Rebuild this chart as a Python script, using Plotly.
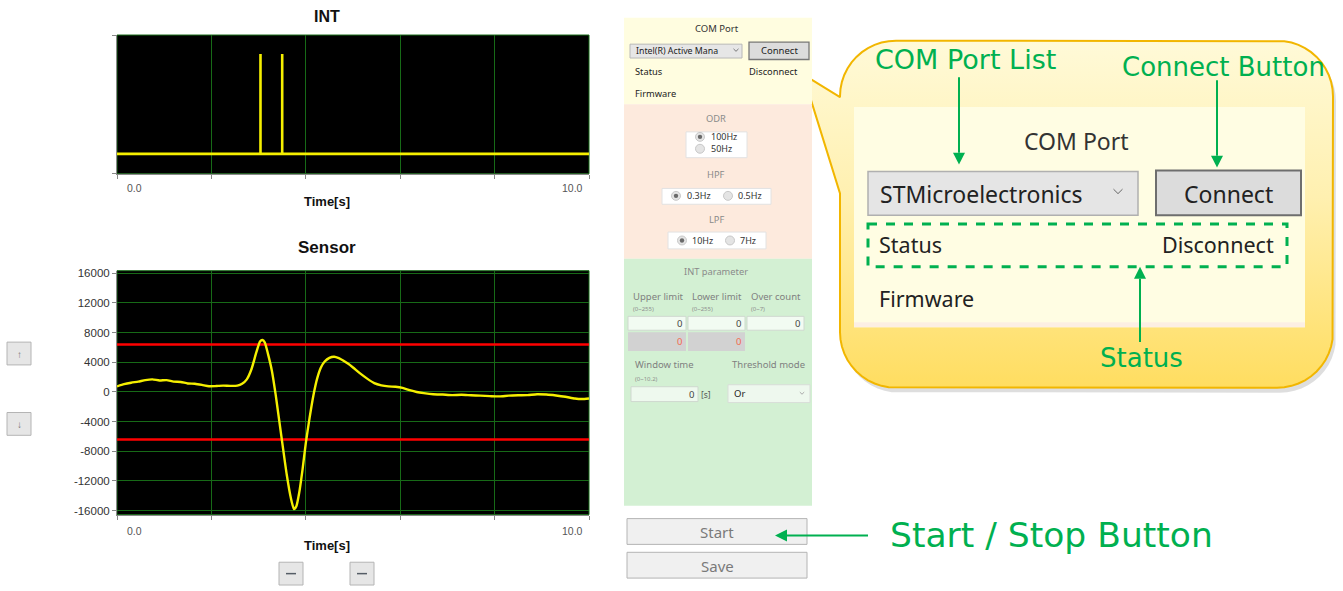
import math
import plotly.graph_objects as go

# ---------------- data ----------------
INT_T = [0.0, 3.04, 3.04, 3.04, 3.50, 3.50, 3.50, 10.0]
INT_V = [0, 0, 1, 0, 0, 1, 0, 0]

SENSOR_T = [0.0, 0.15, 0.3, 0.45, 0.6, 0.75, 0.9, 1.05, 1.2, 1.35, 1.5, 1.65, 1.8, 1.95,
            2.1, 2.25, 2.4, 2.55, 2.65, 2.75, 2.85, 2.95, 3.03, 3.08, 3.13, 3.2, 3.28,
            3.36, 3.44, 3.52, 3.6, 3.68, 3.75, 3.8, 3.86, 3.93, 4.0, 4.08, 4.16, 4.24,
            4.32, 4.4, 4.5, 4.6, 4.7, 4.8, 4.9, 5.0, 5.15, 5.3, 5.45, 5.6, 5.75, 5.9,
            6.05, 6.2, 6.35, 6.5, 6.7, 6.9, 7.1, 7.3, 7.5, 7.7, 7.9, 8.1, 8.3, 8.5,
            8.7, 8.9, 9.1, 9.3, 9.5, 9.7, 9.85, 10.0]
SENSOR_V = [750, 1050, 1250, 1400, 1600, 1700, 1550, 1600, 1400, 1350, 1150, 1100, 950, 780,
            800, 850, 820, 850, 1100, 1700, 3100, 5300, 6800, 7000, 6700, 5100, 2900,
            -300, -4000, -7700, -11300, -14200, -15800, -15400, -13600, -10500, -6900, -3500, -500, 1800,
            3300, 4100, 4600, 4750, 4550, 4200, 3800, 3300, 2500, 1800, 1200, 900, 750, 700,
            550, 250, 0, -150, -300, -350, -420, -380, -450, -500, -560, -600, -500, -450,
            -420, -300, -350, -480, -650, -880, -950, -880]

THRESH_UPPER = 6400
THRESH_LOWER = -6400
X_RANGE = [0, 10]
SENSOR_TICKS = [16000, 12000, 8000, 4000, 0, -4000, -8000, -12000, -16000]
X_TICK_TEXT = ["0.0", "10.0"]

# ---------------- geometry helpers ----------------
W, H = 1343, 591
UI = "Noto Sans"
CH = "Liberation Sans"
CALL = "DejaVu Sans"
GREEN = "#00b050"
GRID = "#176a17"

shapes = []
annos = []


def rect(x0, y0, x1, y1, fill, line=None, lw=1, dash=None, layer="above"):
    shapes.append(dict(type="rect", xref="x3", yref="y3", x0=x0, y0=y0, x1=x1, y1=y1,
                       fillcolor=fill, layer=layer,
                       line=dict(color=line if line else "rgba(0,0,0,0)", width=lw if line else 0,
                                 dash=dash)))


def text(x, y, s, size, color="#333", anchor="center", font=UI, bold=False):
    annos.append(dict(xref="x3", yref="y3", x=x, y=y, text=("<b>%s</b>" % s) if bold else s,
                      showarrow=False, xanchor=anchor, yanchor="middle", borderpad=0,
                      font=dict(family=font, size=size, color=color)))


def path(d, fill=None, line=None, lw=1):
    shapes.append(dict(type="path", xref="x3", yref="y3", path=d, layer="above",
                       fillcolor=fill if fill else "rgba(0,0,0,0)",
                       line=dict(color=line if line else "rgba(0,0,0,0)", width=lw if line else 0)))


def arrow(x0, y0, x1, y1, color=GREEN, lw=2, hl=12, hw=6):
    dx, dy = x1 - x0, y1 - y0
    L = math.hypot(dx, dy)
    ux, uy = dx / L, dy / L
    bx, by = x1 - ux * hl, y1 - uy * hl
    shapes.append(dict(type="line", xref="x3", yref="y3", x0=x0, y0=y0, x1=bx, y1=by,
                       layer="above", line=dict(color=color, width=lw)))
    px, py = -uy, ux
    path("M %f,%f L %f,%f L %f,%f Z" % (x1, y1, bx + px * hw, by + py * hw, bx - px * hw, by - py * hw),
         fill=color)


def radio(cx, cy, sel):
    shapes.append(dict(type="circle", xref="x3", yref="y3", x0=cx - 4.5, y0=cy - 4.5, x1=cx + 4.5,
                       y1=cy + 4.5, layer="above", fillcolor="#e4e4e4",
                       line=dict(color="#c8c8c8", width=1)))
    if sel:
        shapes.append(dict(type="circle", xref="x3", yref="y3", x0=cx - 2.2, y0=cy - 2.2,
                           x1=cx + 2.2, y1=cy + 2.2, layer="above", fillcolor="#6a6a6a",
                           line=dict(width=0)))


def chevron(cx, cy, s=3, color="#777"):
    path("M %f,%f L %f,%f L %f,%f" % (cx - s, cy - s / 2, cx, cy + s / 2, cx + s, cy - s / 2),
         line=color, lw=1)


def rounded_outline(x0, y0, x1, y1, r, tip=None, j1=None, j2=None, dx=0, dy=0):
    xs, ys = [], []
    if tip:
        xs += [tip[0] + dx, j1[0] + dx]
        ys += [tip[1] + dy, j1[1] + dy]
    corners = [((x0 + r, y0 + r), 180, 270), ((x1 - r, y0 + r), 270, 360),
               ((x1 - r, y1 - r), 0, 90), ((x0 + r, y1 - r), 90, 180)]
    for (cx, cy), a0, a1 in corners:
        for k in range(13):
            a = math.radians(a0 + (a1 - a0) * k / 12)
            xs.append(cx + r * math.cos(a) + dx)
            ys.append(cy + r * math.sin(a) + dy)
    if tip:
        xs += [j2[0] + dx, tip[0] + dx]
        ys += [j2[1] + dy, tip[1] + dy]
    else:
        xs.append(xs[0]); ys.append(ys[0])
    return xs, ys


# ---------------- figure ----------------
fig = go.Figure()

# INT chart
fig.add_trace(go.Scatter(x=INT_T, y=INT_V, mode="lines", xaxis="x", yaxis="y",
                         line=dict(color="#f5ef00", width=2.6), hoverinfo="skip"))
# Sensor chart
fig.add_trace(go.Scatter(x=X_RANGE, y=[THRESH_UPPER] * 2, mode="lines", xaxis="x2", yaxis="y2",
                         line=dict(color="#ff0000", width=2.5), hoverinfo="skip"))
fig.add_trace(go.Scatter(x=X_RANGE, y=[THRESH_LOWER] * 2, mode="lines", xaxis="x2", yaxis="y2",
                         line=dict(color="#ff0000", width=2.5), hoverinfo="skip"))
fig.add_trace(go.Scatter(x=SENSOR_T, y=SENSOR_V, mode="lines", xaxis="x2", yaxis="y2",
                         line=dict(color="#f5ef00", width=2.4, shape="spline", smoothing=0.6),
                         hoverinfo="skip"))

# callout (overlay pixel axes)
tip, j1, j2 = (803, 72), (840, 95), (840, 192)
sx, sy = rounded_outline(840, 38, 1333, 388, 56, tip, j1, j2, dx=3, dy=5)
fig.add_trace(go.Scatter(x=sx, y=sy, mode="lines", xaxis="x3", yaxis="y3", fill="toself",
                         fillcolor="rgba(0,0,0,0.13)", line=dict(width=0), hoverinfo="skip"))
cx_, cy_ = rounded_outline(840, 38, 1333, 388, 56, tip, j1, j2)
fig.add_trace(go.Scatter(x=cx_, y=cy_, mode="lines", xaxis="x3", yaxis="y3", fill="toself",
                         fillgradient=dict(type="vertical",
                                           colorscale=[[0, "#ffdd60"], [0.55, "#fff0b0"],
                                                       [1, "#fffad8"]]),
                         line=dict(color="#f2b600", width=2), hoverinfo="skip"))

# chart backgrounds + borders
for xr, yr in (("x domain", "y domain"), ("x2 domain", "y2 domain")):
    shapes.append(dict(type="rect", xref=xr, yref=yr, x0=0, x1=1, y0=0, y1=1, layer="below",
                       fillcolor="#000000", line=dict(color=GRID, width=1)))

# chart texts
text(327, 14, "INT", 16, "#111", font=CH, bold=True)
text(327, 247, "Sensor", 17, "#111", font=CH, bold=True)
for yy in (187, 533):
    text(134, yy, X_TICK_TEXT[0], 10.5, "#555", font=CH)
    text(572, yy, X_TICK_TEXT[1], 10.5, "#555", font=CH)
text(327, 200, "Time[s]", 13, "#111", font=CH, bold=True)
text(327, 547, "Time[s]", 13, "#111", font=CH, bold=True)

# small buttons near the sensor chart
for (x0, y0, g) in ((7, 342, "↑"), (7, 413, "↓")):
    rect(x0, y0, x0 + 24, y0 + 23, "#e6e6e6", "#b4b4b4", 1)
    text(x0 + 12, y0 + 11.5, g, 10, "#777")
for x0 in (279, 350):
    rect(x0, 564, x0 + 24, 587, "#e6e6e6", "#b4b4b4", 1)
    shapes.append(dict(type="line", xref="x3", yref="y3", x0=x0 + 7, x1=x0 + 17, y0=575.5, y1=575.5,
                       layer="above", line=dict(color="#555d66", width=1.5)))

# ---------------- side panel ----------------
rect(624, 15, 812, 102, "#fffde0")
rect(624, 102, 812, 258, "#fdeadd")
rect(624, 258, 812, 507, "#d3f0d3")

text(717, 25.5, "COM Port", 9.5)
rect(630, 41.5, 742, 55.5, "#e6e6e6", "#b8b8b8", 1)
text(635, 48.5, "Intel(R) Active Mana", 8.8, "#222", anchor="left")
chevron(736, 47.5, 2.5)
rect(749, 39.5, 809, 57, "#dcdcdc", "#777", 1.3)
text(779, 48.3, "Connect", 9.5, "#222")
text(634, 69, "Status", 9.3, "#222", anchor="left")
text(799, 69, "Disconnect", 9.3, "#222", anchor="right")
text(634, 91, "Firmware", 9.3, "#222", anchor="left")

text(716, 116, "ODR", 9.3, "#8a8a8a")
rect(686, 130, 747, 156, "#ffffff", "#e2e2e2", 1)
radio(700, 135, True); text(710, 135, "100Hz", 9, "#333", anchor="left")
radio(700, 147, False); text(710, 147, "50Hz", 9, "#333", anchor="left")
text(716, 173, "HPF", 9.3, "#8a8a8a")
rect(662, 187, 771, 203, "#ffffff", "#e2e2e2", 1)
radio(676, 194.5, True); text(686, 194.5, "0.3Hz", 9, "#333", anchor="left")
radio(728, 194.5, False); text(737, 194.5, "0.5Hz", 9, "#333", anchor="left")
text(716, 218, "LPF", 9.3, "#8a8a8a")
rect(668, 231, 766, 248, "#ffffff", "#e2e2e2", 1)
radio(682, 239.5, True); text(691, 239.5, "10Hz", 9, "#333", anchor="left")
radio(730, 239.5, False); text(739, 239.5, "7Hz", 9, "#333", anchor="left")

text(716, 271, "INT parameter", 9.3, "#8a8a8a")
for xl, lab, rng in ((632, "Upper limit", "(0~255)"), (691, "Lower limit", "(0~255)"),
                     (750, "Over count", "(0~7)")):
    text(xl, 296.5, lab, 9.5, "#808080", anchor="left")
    text(xl, 309, rng, 6, "#909090", anchor="left")
for (x0, x1) in ((628, 686), (688, 745), (747, 804)):
    rect(x0, 316, x1, 330, "#f2fbf2", "#cfd8cf", 1)
    text(x1 - 3, 323, "0", 9.5, "#444", anchor="right")
for (x0, x1) in ((628, 686), (688, 745)):
    rect(x0, 332, x1, 351, "#d2d2d2")
    text(x1 - 3, 341.5, "0", 9.5, "#f26a4f", anchor="right")
text(634, 365, "Window time", 9.5, "#808080", anchor="left")
text(634, 379, "(0~10.2)", 6, "#909090", anchor="left")
text(731, 365, "Threshold mode", 9.5, "#808080", anchor="left")
rect(631, 387, 698, 402, "#eef9ee", "#cfd8cf", 1)
text(695, 394.5, "0", 9.5, "#444", anchor="right")
text(706, 395, "[s]", 8.5, "#555")
rect(728, 385, 810, 403, "#eef8ee", "#d8ddd8", 1)
text(733, 394, "Or", 9.5, "#222", anchor="left")
chevron(802, 393.5, 2.2, "#aaa")

rect(627, 520, 807, 546, "#f0f0f0", "#b4b4b4", 1)
text(717, 534, "Start", 15, "#7a7a7a")
rect(627, 554, 807, 580, "#f0f0f0", "#b4b4b4", 1)
text(717, 568, "Save", 15, "#7a7a7a")

# ---------------- callout content ----------------
rect(854, 105, 1305, 327, "#fffde3")
rect(854, 322, 1305, 327, "#fcefe4")
text(1076, 139, "COM Port", 23, "#333")
rect(868, 170, 1138, 214, "#e5e5e5", "#b0b0b0", 1.5)
text(879, 193, "STMicroelectronics", 23, "#222", anchor="left")
chevron(1118, 190, 4.5, "#666")
rect(1156, 169, 1301, 214, "#dcdcdc", "#6e6e6e", 2)
text(1228, 193, "Connect", 23, "#222")
rect(868, 223, 1287, 266, "rgba(0,0,0,0)", GREEN, 3, dash="dash")
text(878, 244, "Status", 21.5, "#222", anchor="left")
text(1275, 244, "Disconnect", 21.5, "#222", anchor="right")
text(878, 298, "Firmware", 21.5, "#222", anchor="left")

text(965, 57, "COM Port List", 27, GREEN, font=CALL)
arrow(959, 75, 959, 163)
text(1223, 65, "Connect Button", 26, GREEN, font=CALL)
arrow(1217, 78, 1217, 166)
arrow(1140, 342, 1140, 266)
text(1141, 358, "Status", 26, GREEN, font=CALL)

arrow(868, 537, 775, 537)
text(1051, 537, "Start / Stop Button", 34.5, GREEN, font=CALL)

# ---------------- layout ----------------
x_common = dict(range=X_RANGE, showgrid=True, gridcolor=GRID, gridwidth=1, dtick=2, tick0=0,
                ticks="outside", ticklen=4, tickcolor="#888", showticklabels=False,
                showline=True, linecolor="#8a8a8a", linewidth=1, zeroline=False, fixedrange=True)
fig.update_layout(
    width=W, height=H, margin=dict(l=0, r=0, t=0, b=0),
    paper_bgcolor="white", plot_bgcolor="rgba(0,0,0,0)", showlegend=False,
    xaxis=dict(domain=[117 / W, 589 / W], anchor="y", **x_common),
    yaxis=dict(domain=[1 - 172.3 / H, 1 - 32.3 / H], anchor="x", range=[-0.2, 1.19],
               showgrid=False, tickvals=[-0.2, 1.19], ticks="outside", ticklen=4,
               tickcolor="#888", showticklabels=False, showline=True, linecolor="#8a8a8a",
               zeroline=False, fixedrange=True),
    xaxis2=dict(domain=[117 / W, 589 / W], anchor="y2", **x_common),
    yaxis2=dict(domain=[1 - 516 / H, 1 - 270 / H], anchor="x2", range=[-16540, 16350],
                tickvals=SENSOR_TICKS, ticktext=[str(v) for v in SENSOR_TICKS],
                showgrid=True, gridcolor=GRID, ticks="outside", ticklen=4, tickcolor="#888",
                tickfont=dict(family=CH, size=11.5, color="#333"), showline=True,
                linecolor="#8a8a8a", zeroline=False, fixedrange=True),
    xaxis3=dict(domain=[0, 1], anchor="y3", range=[0, W], visible=False, fixedrange=True),
    yaxis3=dict(domain=[0, 1], anchor="x3", range=[H, 0], visible=False, fixedrange=True),
    shapes=shapes, annotations=annos,
)

fig.write_html("out.html", config={"displayModeBar": False},
               post_script="document.body.style.margin='0';document.body.style.padding='0';"
                           "document.body.style.overflow='hidden';")
